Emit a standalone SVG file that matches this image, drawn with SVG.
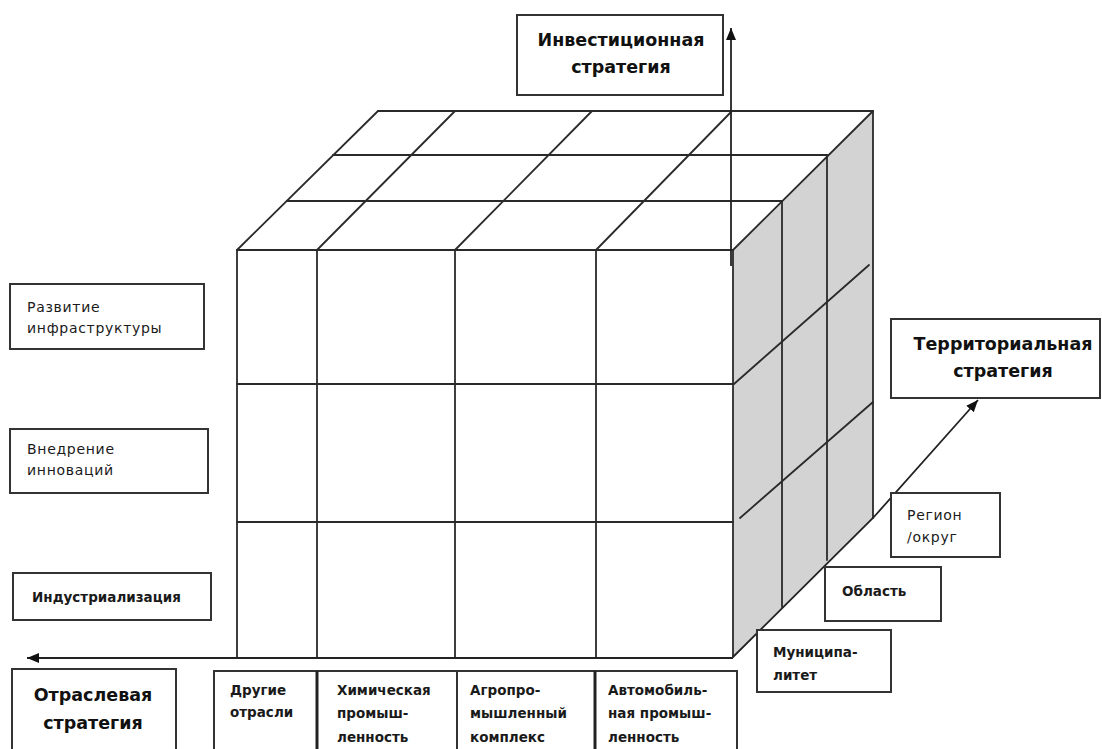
<svg xmlns="http://www.w3.org/2000/svg" width="1102" height="749" viewBox="0 0 1102 749">
<style>
.ln{stroke:#2a2a2a;stroke-width:1.8;fill:none;stroke-linecap:round}
.box{fill:#fff;stroke:#333;stroke-width:2}
.side{fill:#d3d3d3;stroke:none}
.ttl{font-family:"DejaVu Sans","Liberation Sans",sans-serif;font-weight:bold;font-size:17.5px;fill:#111;text-anchor:middle}
.lb{font-family:"DejaVu Sans","Liberation Sans",sans-serif;font-weight:bold;font-size:13.5px;fill:#1a1a1a}
.lr{font-family:"DejaVu Sans","Liberation Sans",sans-serif;font-size:14px;letter-spacing:0.7px;fill:#1a1a1a}
.arr{stroke:#222;stroke-width:1.8;fill:none}
</style>
<defs>
<marker id="ah" markerUnits="userSpaceOnUse" markerWidth="13" markerHeight="10" refX="12" refY="5" orient="auto">
<path d="M0,0 L12,5 L0,10 z" fill="#111"/>
</marker>
</defs>
<rect width="1102" height="749" fill="#fff"/>

<g id="cube">
<polygon class="side" points="733,250 873,111 873,518 733,657"/>
<g class="ln">
<line x1="237" y1="250" x2="237" y2="657"/>
<line x1="317" y1="250" x2="317" y2="657"/>
<line x1="455" y1="250" x2="455" y2="657"/>
<line x1="596" y1="250" x2="596" y2="657"/>
<line x1="733" y1="250" x2="733" y2="657"/>
<line x1="237" y1="250" x2="733" y2="250"/>
<line x1="237" y1="384" x2="733" y2="384"/>
<line x1="237" y1="522" x2="733" y2="522"/>
<line x1="378" y1="111" x2="873" y2="111"/>
<line x1="333" y1="155" x2="827" y2="155"/>
<line x1="287" y1="201" x2="782" y2="201"/>
<line x1="237" y1="250" x2="378" y2="111"/>
<line x1="317" y1="250" x2="455" y2="111"/>
<line x1="455" y1="250" x2="592" y2="111"/>
<line x1="596" y1="250" x2="732" y2="111"/>
<line x1="733" y1="250" x2="873" y2="111"/>
<line x1="782" y1="201" x2="782" y2="607"/>
<line x1="827" y1="155" x2="827" y2="560"/>
<line x1="873" y1="111" x2="873" y2="518"/>
<line x1="734" y1="384" x2="869" y2="265"/>
<line x1="740" y1="518" x2="873" y2="402"/>
</g>
</g>

<g id="connectors">
<line class="arr" x1="731" y1="266" x2="731" y2="28" marker-end="url(#ah)"/>
<line class="arr" x1="733" y1="658" x2="27" y2="658" marker-end="url(#ah)"/>
<polyline class="arr" points="733,657 873,518 978,400" marker-end="url(#ah)"/>
</g>

<g id="invest">
<rect class="box" x="517" y="15" width="206" height="80"/>
<text class="ttl" x="621" y="46">Инвестиционная</text>
<text class="ttl" x="621" y="73">стратегия</text>
</g>

<g id="territorial">
<rect class="box" x="891" y="319" width="209" height="79"/>
<text class="ttl" x="1003" y="350">Территориальная</text>
<text class="ttl" x="1003" y="377">стратегия</text>
</g>

<g id="sector">
<rect class="box" x="12" y="669" width="164" height="90"/>
<text class="ttl" x="93" y="701">Отраслевая</text>
<text class="ttl" x="93" y="729">стратегия</text>
</g>

<g id="infra">
<rect class="box" x="10" y="284" width="194" height="65"/>
<text class="lr" x="27" y="312">Развитие</text>
<text class="lr" x="27" y="333">инфраструктуры</text>
</g>

<g id="innov">
<rect class="box" x="10" y="429" width="198" height="64"/>
<text class="lr" x="27" y="454">Внедрение</text>
<text class="lr" x="27" y="475">инноваций</text>
</g>

<g id="indust">
<rect class="box" x="13" y="573" width="198" height="47"/>
<text class="lb" x="32" y="602">Индустриализация</text>
</g>

<g id="region">
<rect class="box" x="891" y="493" width="109" height="64"/>
<text class="lr" x="907" y="520">Регион</text>
<text class="lr" x="907" y="542">/округ</text>
</g>

<g id="oblast">
<rect class="box" x="825" y="567" width="116" height="54"/>
<text class="lb" x="842" y="596">Область</text>
</g>

<g id="munic">
<rect class="box" x="757" y="630" width="134" height="62"/>
<text class="lb" x="773" y="657">Муниципа-</text>
<text class="lb" x="773" y="680">литет</text>
</g>

<g id="industries">
<rect class="box" x="214" y="671" width="523" height="90"/>
<line x1="317" y1="671" x2="317" y2="749" stroke="#222" stroke-width="3"/>
<line x1="457" y1="671" x2="457" y2="749" stroke="#333" stroke-width="2"/>
<line x1="595" y1="671" x2="595" y2="749" stroke="#222" stroke-width="3"/>
<g id="other"><text class="lb" x="230" y="695">Другие</text><text class="lb" x="230" y="717">отрасли</text></g>
<g id="chem"><text class="lb" x="337" y="695">Химическая</text><text class="lb" x="337" y="718">промыш-</text><text class="lb" x="337" y="742">ленность</text></g>
<g id="agro"><text class="lb" x="470" y="695">Агропро-</text><text class="lb" x="470" y="718">мышленный</text><text class="lb" x="470" y="742">комплекс</text></g>
<g id="auto"><text class="lb" x="608" y="695">Автомобиль-</text><text class="lb" x="608" y="718">ная промыш-</text><text class="lb" x="608" y="742">ленность</text></g>
</g>
</svg>
